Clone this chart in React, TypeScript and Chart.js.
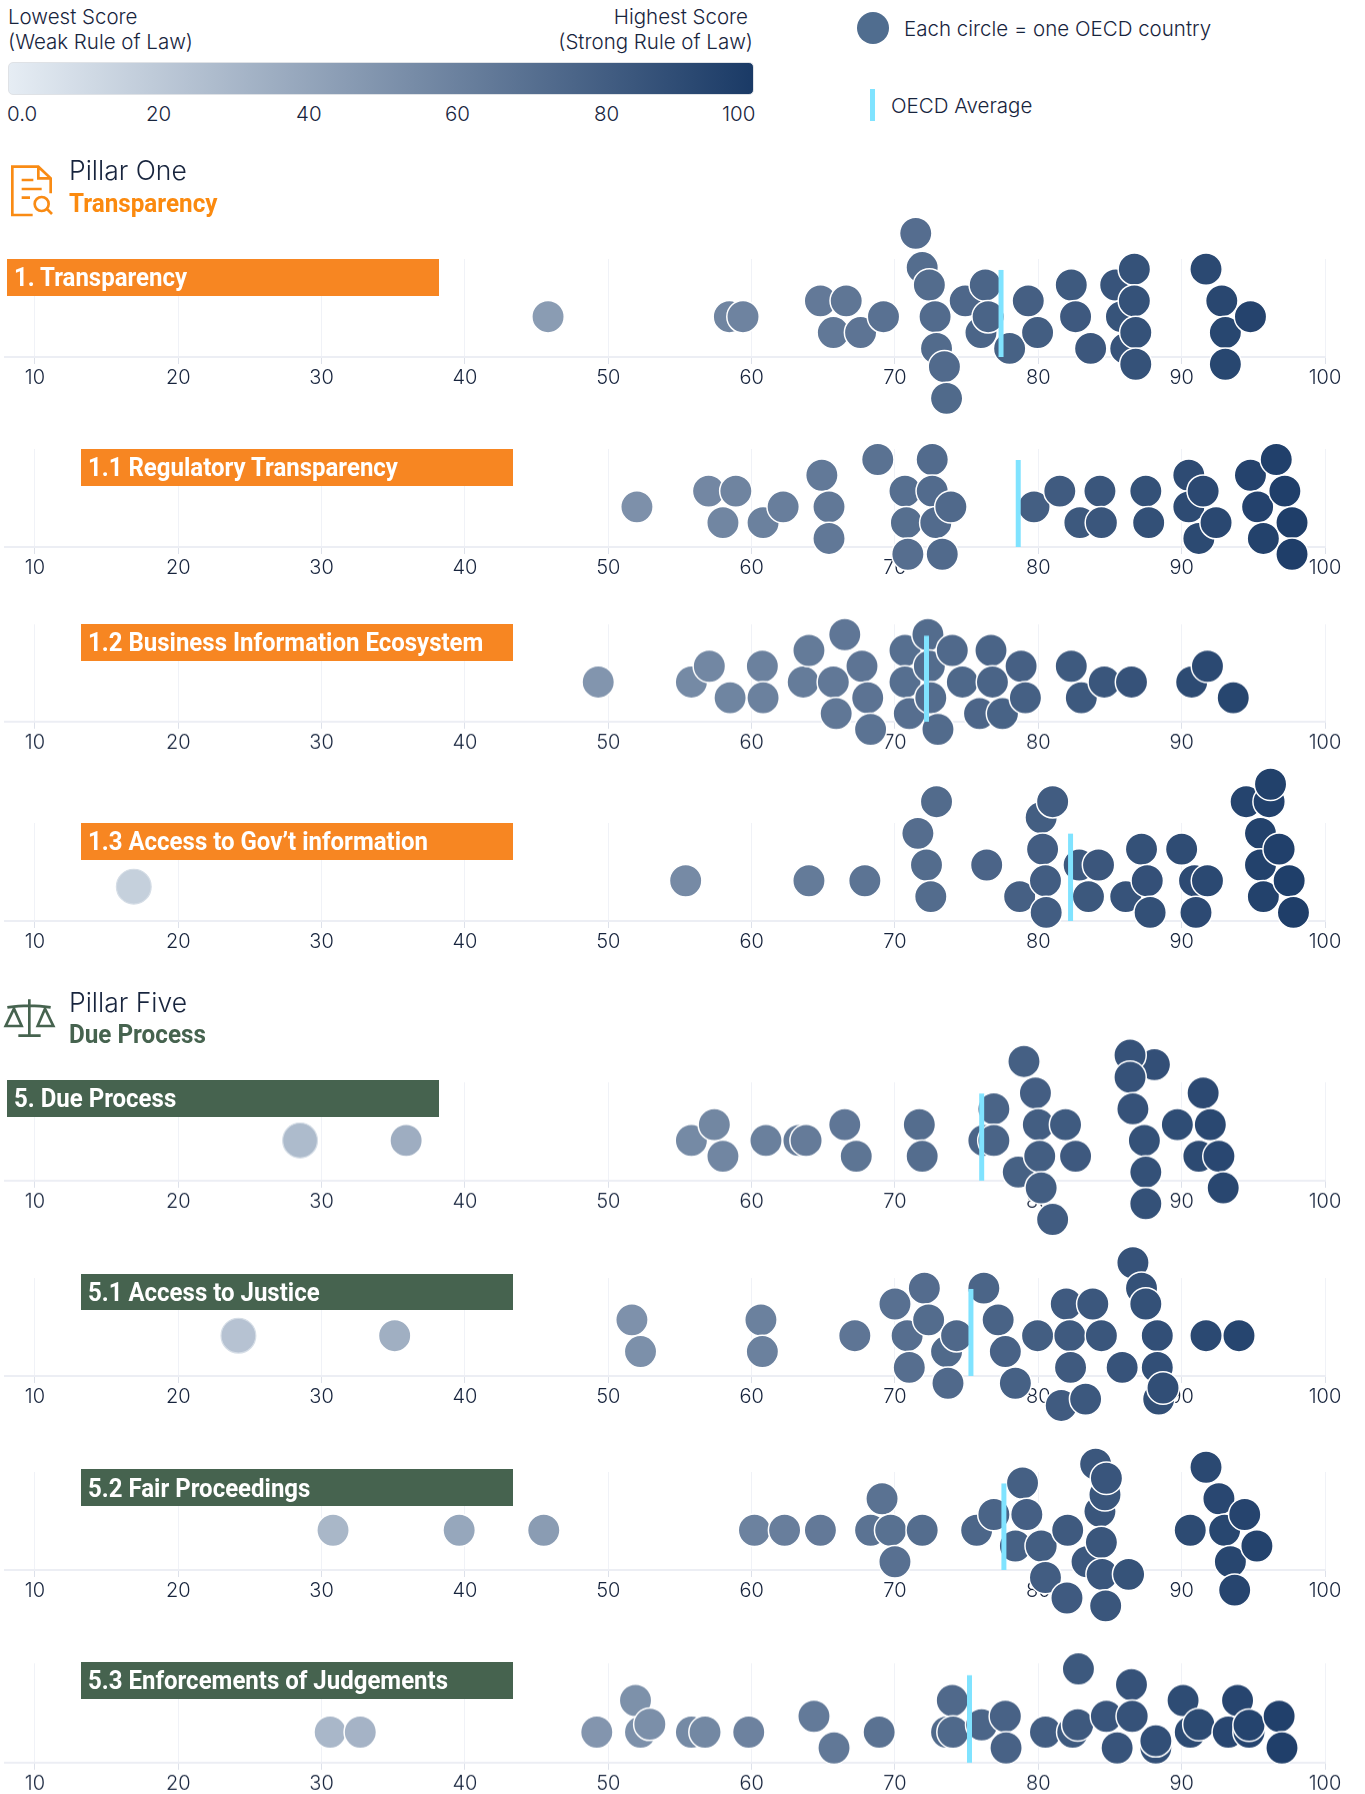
import React, { useEffect, useRef } from "react";
import { Chart, registerables } from "chart.js";

Chart.register(...registerables);

const tickValues = [10, 20, 30, 40, 50, 60, 70, 80, 90, 100];
const legendTicks = ["0.0", "20", "40", "60", "80", "100"];

const transparencyScores = [45.8, 58.45, 59.4, 64.8, 66.6, 65.7, 67.6, 69.2, 71.45, 71.9, 72.4, 72.8, 72.9, 73.45, 73.6, 74.9, 76, 76.3, 76.5, 78, 79.3, 79.95, 82.3, 82.6, 83.65, 85.4, 85.8, 86.1, 86.7, 86.7, 86.8, 86.8, 91.7, 92.8, 93.05, 93.05, 94.8];
const transparencyRows = [0, 0, 0, 1, 1, -1, -1, 0, 5.26, 3.1, 2, 0, -2, -3.15, -5.15, 1, -1, 2, 0, -2, 1, -1, 2, 0, -2, 2, 0, -2, 3, 1, -1, -3, 3, 1, -1, -3, 0];
const transparencyAverage = 77.4;
const transparencyAverageTop = 2.95;

const regulatoryScores = [52, 57, 58.9, 58, 60.8, 62.2, 64.9, 65.4, 65.4, 68.8, 70.7, 70.8, 70.9, 72.6, 72.6, 72.85, 73.3, 73.9, 79.7, 81.5, 82.9, 84.3, 84.4, 87.5, 87.7, 90.5, 90.5, 91.2, 91.5, 92.4, 94.8, 95.3, 95.7, 96.6, 97.2, 97.7, 97.7];
const regulatoryRows = [0, 1, 1, -1, -1, 0, 2, 0, -2, 3, 1, -1, -3, 3, 1, -1, -3, 0, 0, 1, -1, 1, -1, 1, -1, 2, 0, -2, 1, -1, 2, 0, -2, 3, 1, -1, -3];
const regulatoryAverage = 78.6;
const regulatoryAverageTop = 2.97;

const businessScores = [49.3, 55.8, 57.05, 58.5, 60.75, 60.8, 63.6, 64, 65.7, 65.9, 66.5, 67.7, 68.1, 68.3, 70.7, 70.7, 71, 72.3, 72.4, 72.5, 73, 74, 74.7, 75.9, 76.7, 76.8, 77.5, 78.8, 79.1, 82.3, 83, 84.6, 86.5, 90.7, 91.8, 93.6];
const businessRows = [0, 0, 1, -1, 1, -1, 0, 2, 0, -2, 3, 1, -1, -3, 2, 0, -2, 3, 1, -1, -3, 2, 0, -2, 2, 0, -2, 1, -1, 1, -1, 0, 0, 0, 1, -1];
const businessAverage = 72.2;
const businessAverageTop = 2.93;

const accessGovScores = [16.9, 55.4, 64, 67.9, 71.6, 72.2, 72.5, 72.9, 76.4, 78.7, 80.2, 80.3, 80.5, 80.55, 81, 82.85, 83.5, 84.2, 86.1, 87.2, 87.6, 87.8, 90, 90.9, 91, 91.8, 94.5, 95.5, 95.5, 95.7, 96.1, 96.2, 96.8, 97.5, 97.8];
const accessGovRows = [-0.37, 0, 0, 0, 3, 1, -1, 5, 1, -1, 4, 2, 0, -2, 5, 1, -1, 1, -1, 2, 0, -2, 2, 0, -2, 0, 5, 3, 1, -1, 5, 6.1, 2, 0, -2];
const accessGovAverage = 82.25;
const accessGovAverageTop = 2.98;

const dueProcessScores = [28.5, 35.9, 55.8, 57.4, 58, 61, 63.3, 63.8, 66.5, 67.3, 71.7, 71.9, 76.2, 76.9, 76.9, 78.6, 79, 79.8, 80, 80.1, 80.2, 81, 81.9, 82.6, 88.1, 86.4, 86.4, 86.6, 87.4, 87.5, 87.5, 89.7, 91.2, 91.5, 92, 92.6, 92.9];
const dueProcessRows = [0, 0, 0, 1, -1, 0, 0, 0, 1, -1, 1, -1, 0, 2, 0, -2, 5, 3, 1, -1, -3, -5, 1, -1, 4.8, 5.4, 4, 2, 0, -2, -4, 1, -1, 3, 1, -1, -3];
const dueProcessAverage = 76.05;
const dueProcessAverageTop = 2.97;

const justiceScores = [24.2, 35.1, 51.65, 52.25, 60.65, 60.75, 67.2, 70, 70.85, 71, 72.05, 72.35, 73.6, 73.7, 74.3, 76.2, 77.2, 77.7, 78.4, 79.95, 81.6, 81.95, 82.2, 82.25, 83.3, 83.8, 84.4, 85.85, 86.6, 87.2, 87.5, 88.3, 88.3, 88.4, 88.7, 91.7, 94];
const justiceRows = [0, 0, 1, -1, 1, -1, 0, 2, 0, -2, 3, 1, -1, -3, 0, 3, 1, -1, -3, 0, -4.4, 2, 0, -2, -4, 2, 0, -2, 4.6, 3, 2, 0, -2, -4, -3.3, 0, 0];
const justiceAverage = 75.3;
const justiceAverageTop = 2.95;

const fairScores = [30.8, 39.6, 45.5, 60.2, 62.3, 64.8, 68.3, 69.1, 69.7, 70, 71.9, 75.7, 76.9, 78.4, 78.9, 79.2, 80.2, 80.5, 82, 82.05, 83.4, 84, 84.3, 84.4, 84.45, 84.65, 84.7, 84.75, 86.3, 90.6, 91.7, 92.6, 93, 93.4, 93.7, 94.4, 95.25];
const fairRows = [0, 0, 0, 0, 0, 0, 0, 2, 0, -2, 0, 0, 1, -1, 3, 1, -1, -3, -4.3, 0, -2, 4.2, 1.2, -0.77, -2.8, 2.25, -4.8, 3.3, -2.8, 0, 4, 2, 0, -2, -3.8, 1, -1];
const fairAverage = 77.6;
const fairAverageTop = 2.97;

const enforcementScores = [30.6, 32.7, 49.2, 51.9, 52.25, 52.9, 55.8, 56.75, 59.8, 64.35, 65.75, 68.9, 73.6, 74, 74.05, 76.05, 77.7, 77.75, 80.5, 82.4, 82.75, 82.8, 84.75, 85.5, 86.5, 86.55, 88.2, 88.2, 90.1, 90.6, 91.2, 93.25, 93.9, 94.7, 94.7, 96.8, 97];
const enforcementRows = [0, 0, 0, 2, 0, 0.5, 0, 0, 0, 1, -1, 0, 0, 2, 0, 0.46, 1, -1, 0, 0, 0.46, 4, 1, -1, 3, 1, -1, -0.55, 2, 0, 0.48, 0, 2, 0, 0.44, 1, -1];
const enforcementAverage = 75.2;
const enforcementAverageTop = 3.6;

const ORANGE = "#f78622";
const GREEN = "#46634f";
const INK = "#17243d";
const FONT = "Inter, 'Noto Sans', sans-serif";
const ROW_PX = 15.85;
const PX_LEFT = 5.2;
const PX_RIGHT = 1325;
const X_MIN = 7.93;
const PAD = 70;

function scoreColor(v: number) {
  const t = v / 100;
  const c = (a: number, b: number) => Math.round(a + (b - a) * t);
  return `rgb(${c(232, 26)},${c(238, 58)},${c(244, 102)})`;
}

// Points are culled against the chart area; the swarm deliberately overflows it.
const overflowPlugin = {
  id: "overflow",
  beforeDatasetsDraw(chart: any) {
    chart.$area = chart.chartArea;
    chart.chartArea = { left: 0, top: 0, right: chart.width, bottom: chart.height, width: chart.width, height: chart.height };
  },
  afterDatasetsDraw(chart: any) {
    chart.chartArea = chart.$area;
  },
};

type PanelProps = {
  title: string;
  scores: number[];
  rows: number[];
  average: number;
  averageTop: number;
  gridTop: number;
  baseline: number;
  center: number;
  barTop: number;
  barBottom: number;
  barLeft: number;
  barColor: string;
};

function SwarmPanel(p: PanelProps) {
  const ref = useRef<HTMLCanvasElement>(null);
  const innerH = p.baseline - p.gridTop;
  useEffect(() => {
    const yMin = (p.center - p.baseline) / ROW_PX;
    const yMax = (p.center - p.gridTop) / ROW_PX;
    const chart = new Chart(ref.current!, {
      type: "scatter",
      plugins: [overflowPlugin],
      data: {
        datasets: [
          {
            data: [
              { x: p.average, y: yMin },
              { x: p.average, y: p.averageTop },
            ],
            showLine: true,
            pointRadius: 0,
            borderColor: "#80e3ff",
            borderWidth: 5,
            clip: false,
          },
          {
            data: p.scores.map((x, i) => ({ x, y: p.rows[i] })),
            pointRadius: (c: any) => (c.raw.x < 29 ? 17.4 : 16.2),
            pointBackgroundColor: (c: any) => scoreColor(c.raw.x),
            pointBorderColor: (c: any) => (c.raw.x < 29 ? "#d5dde6" : "#ffffff"),
            pointBorderWidth: (c: any) => (c.raw.x < 29 ? 1.2 : 1.5),
            clip: false,
          },
        ],
      } as any,
      options: {
        animation: false,
        responsive: false,
        layout: { autoPadding: false, padding: { left: PX_LEFT, right: 1365 - PX_RIGHT, top: PAD, bottom: 0 } },
        plugins: { legend: { display: false }, tooltip: { enabled: false } },
        scales: {
          y: { display: false, min: yMin, max: yMax },
          x: {
            type: "linear",
            min: X_MIN,
            max: 100,
            afterBuildTicks: (s: any) => {
              s.ticks = tickValues.map((value) => ({ value }));
            },
            afterFit: (s: any) => {
              s.height = PAD;
            },
            border: { display: true, color: "#eceef4", width: 2 },
            grid: { color: "#f0f2f7", lineWidth: 1, tickColor: "#dde1ea", tickLength: 7 },
            ticks: {
              autoSkip: false,
              maxRotation: 0,
              padding: 2,
              color: INK,
              font: { family: FONT, size: 20, weight: 300 },
              callback: (v: any) => String(v),
            },
          },
        },
      } as any,
    });
    return () => chart.destroy();
  }, []);
  return (
    <>
      <canvas
        ref={ref}
        width={1365}
        height={PAD + innerH + PAD}
        style={{ position: "absolute", left: 0, top: p.gridTop - PAD, width: 1365, height: PAD + innerH + PAD }}
      />
      <div
        style={{
          position: "absolute",
          left: p.barLeft,
          top: p.barTop,
          width: 432,
          height: p.barBottom - p.barTop,
          background: p.barColor,
          color: "#fff",
          fontFamily: "Roboto, sans-serif",
          fontWeight: 700,
          fontSize: 25,
          lineHeight: `${p.barBottom - p.barTop + 2}px`,
          whiteSpace: "nowrap",
          zIndex: 5,
        }}
      >
        <span style={{ display: "inline-block", marginLeft: 7, transform: "scaleX(0.96)", transformOrigin: "left center" }}>
          {p.title}
        </span>
      </div>
    </>
  );
}

function Txt(props: { x?: number; r?: number; y: number; size?: number; weight?: number; color?: string; children: React.ReactNode; family?: string; squeeze?: number }) {
  const { x, r, y, size = 20.5, weight = 300, color = INK, children, family = FONT, squeeze } = props;
  return (
    <div
      style={{
        position: "absolute",
        left: x,
        right: r !== undefined ? 1365 - r : undefined,
        top: y - size * 0.75,
        lineHeight: `${size * 1.5}px`,
        fontFamily: family,
        fontSize: size,
        fontWeight: weight,
        color,
        whiteSpace: "nowrap",
        transform: squeeze ? `scaleX(${squeeze})` : undefined,
        transformOrigin: "left center",
        zIndex: 6,
      }}
    >
      {children}
    </div>
  );
}

function DocIcon() {
  return (
    <svg width={300} height={150} viewBox="0 0 900 450" style={{ position: "absolute", left: 0, top: 150, zIndex: 6 }} fill="none" stroke="#f98b14" strokeWidth={8}>
      <path d="M98 195 H37 V50 H115 L152 85 V130 M115 50 V85 H152" />
      <path d="M65 90 H100 M65 117 H125 M65 143 H90" />
      <circle cx={125} cy={162} r={21} />
      <path d="M141 177 L156 192" />
    </svg>
  );
}

function ScalesIcon() {
  return (
    <svg width={300} height={130} viewBox="0 0 900 390" style={{ position: "absolute", left: 0, top: 990, zIndex: 6 }} fill="none" stroke={GREEN} strokeWidth={8}>
      <path d="M88 28 V135 M55 137 H122 M22 52 Q88 42 152 52" />
      <path d="M42 56 L17 108 H65 Z M135 56 L113 108 H160 Z" />
    </svg>
  );
}

const LEGEND_TICK_X = [7, 146, 296, 445, 594, 722];

export default function App() {
  return (
    <div style={{ position: "absolute", left: 0, top: 0, width: 1365, height: 1794, overflow: "hidden", background: "#fff" }}>
      <Txt x={8} y={17}>Lowest Score</Txt>
      <Txt x={8} y={42}>(Weak Rule of Law)</Txt>
      <Txt r={748} y={17}>Highest Score</Txt>
      <Txt r={753} y={42}>(Strong Rule of Law)</Txt>
      <div
        style={{
          position: "absolute",
          left: 8,
          top: 62,
          width: 746,
          height: 33,
          boxSizing: "border-box",
          borderRadius: 5,
          border: "1.5px solid #dfe2e6",
          background: "linear-gradient(90deg,#e6edf4,#1a3a66)",
        }}
      />
      {legendTicks.map((t, i) => (
        <Txt key={t} x={LEGEND_TICK_X[i]} y={114}>{t}</Txt>
      ))}
      <div style={{ position: "absolute", left: 856.5, top: 11.5, width: 32, height: 32, borderRadius: "50%", background: "#506d8f" }} />
      <Txt x={904} y={29}>Each circle = one OECD country</Txt>
      <div style={{ position: "absolute", left: 870, top: 89, width: 5, height: 32, background: "#80e3ff" }} />
      <Txt x={891} y={106}>OECD Average</Txt>

      <DocIcon />
      <Txt x={69} y={171} size={26.5}>Pillar One</Txt>
      <Txt x={69} y={204} size={25} weight={700} color="#fb8a0f" family="Roboto, sans-serif" squeeze={0.97}>Transparency</Txt>

      <SwarmPanel title="1. Transparency" scores={transparencyScores} rows={transparencyRows} average={transparencyAverage} averageTop={transparencyAverageTop} gridTop={259} baseline={357} center={316.7} barTop={259} barBottom={295.7} barLeft={7} barColor={ORANGE} />
      <SwarmPanel title="1.1 Regulatory Transparency" scores={regulatoryScores} rows={regulatoryRows} average={regulatoryAverage} averageTop={regulatoryAverageTop} gridTop={449} baseline={547.4} center={507.1} barTop={449.3} barBottom={486.1} barLeft={80.6} barColor={ORANGE} />
      <SwarmPanel title="1.2 Business Information Ecosystem" scores={businessScores} rows={businessRows} average={businessAverage} averageTop={businessAverageTop} gridTop={624.2} baseline={722} center={682.1} barTop={624.2} barBottom={661} barLeft={80.6} barColor={ORANGE} />
      <SwarmPanel title="1.3 Access to Gov’t information" scores={accessGovScores} rows={accessGovRows} average={accessGovAverage} averageTop={accessGovAverageTop} gridTop={823.2} baseline={921.4} center={881.1} barTop={823.2} barBottom={860.1} barLeft={80.6} barColor={ORANGE} />

      <ScalesIcon />
      <Txt x={69} y={1003} size={26.5}>Pillar Five</Txt>
      <Txt x={69} y={1035} size={25} weight={700} color={GREEN} family="Roboto, sans-serif" squeeze={0.97}>Due Process</Txt>

      <SwarmPanel title="5. Due Process" scores={dueProcessScores} rows={dueProcessRows} average={dueProcessAverage} averageTop={dueProcessAverageTop} gridTop={1082} baseline={1180.7} center={1140.3} barTop={1080.3} barBottom={1116.7} barLeft={7} barColor={GREEN} />
      <SwarmPanel title="5.1 Access to Justice" scores={justiceScores} rows={justiceRows} average={justiceAverage} averageTop={justiceAverageTop} gridTop={1278} baseline={1376} center={1335.7} barTop={1273.7} barBottom={1310.3} barLeft={80.6} barColor={GREEN} />
      <SwarmPanel title="5.2 Fair Proceedings" scores={fairScores} rows={fairRows} average={fairAverage} averageTop={fairAverageTop} gridTop={1471.7} baseline={1570.3} center={1530.3} barTop={1469.3} barBottom={1506.3} barLeft={80.6} barColor={GREEN} />
      <SwarmPanel title="5.3 Enforcements of Judgements" scores={enforcementScores} rows={enforcementRows} average={enforcementAverage} averageTop={enforcementAverageTop} gridTop={1663} baseline={1762.7} center={1732} barTop={1662.3} barBottom={1698.7} barLeft={80.6} barColor={GREEN} />
    </div>
  );
}
